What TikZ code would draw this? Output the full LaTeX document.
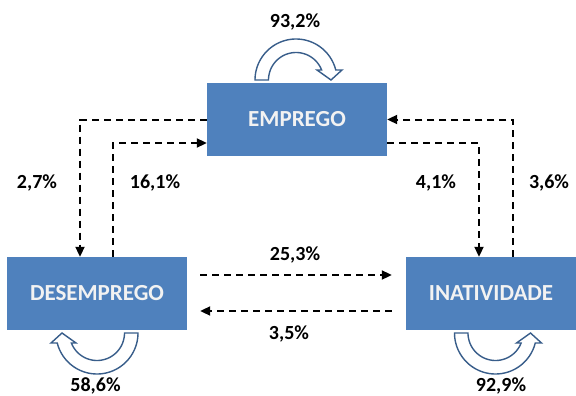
\documentclass[tikz,border=0pt]{standalone}
\usepackage{fontspec}
\setmainfont{Carlito}
\usetikzlibrary{arrows.meta}
\definecolor{boxblue}{HTML}{4F81BD}
\definecolor{loopblue}{HTML}{385D8A}
\definecolor{boxtext}{HTML}{F2F2F2}
\tikzset{
  uloop/.pic={
    \draw[loopband] plot[variable=\t, domain=180:14.1, samples=50] ({41*cos(\t)},{41*sin(\t)})
      -- (46,10) -- (35,0) -- (21,10)
      -- plot[variable=\t, domain=21.3:180, samples=50] ({27.5*cos(\t)},{27.5*sin(\t)}) -- cycle;
  }
}
\begin{document}
\begin{tikzpicture}[x=1pt,y=-1pt,
  state/.style={fill=boxblue, minimum width=180pt, minimum height=73pt, inner sep=0pt,
    text=boxtext, font=\bfseries\fontsize{23}{28}\selectfont},
  flow/.style={draw=black, line width=2pt, dash pattern=on 7pt off 5pt,
    -{Triangle[length=10pt,width=9pt]}},
  pct/.style={font=\bfseries\fontsize{20}{24}\selectfont, anchor=base, inner sep=0pt},
  loopband/.style={draw=loopblue, fill=white, line width=1.4pt, line join=miter}]
\useasboundingbox (0,0) rectangle (576,396);
\node[state] (E) at (297,119.5) {EMPREGO};
\node[state] (D) at (97,293.5) {DESEMPREGO};
\node[state, minimum width=170pt] (I) at (491,293.5) {INATIVIDADE};
% loops
\pic[yscale=-1] at (296,80) {uloop};
\pic[xscale=-1] at (97,333) {uloop};
\pic at (495.5,333) {uloop};
% flows
\draw[flow] (E.west) -| ([xshift=-17pt]D.north);
\draw[flow] ([xshift=16pt]D.north) |- ([yshift=-23.5pt]E.west);
\draw[flow] ([yshift=-23.5pt]E.east) -| ([xshift=-12pt]I.north);
\draw[flow] ([xshift=22pt]I.north) |- (E.east);
\draw[flow] ([xshift=13pt,yshift=18.5pt]D.east) -- ([xshift=-14pt,yshift=18.5pt]I.west);
\draw[flow] ([xshift=-14pt,yshift=-17.5pt]I.west) -- ([xshift=13pt,yshift=-17.5pt]D.east);
% labels
\node[pct] (l932) at (295,28) {93,2\%};
\node[pct] (l27) at (37,188) {2,7\%};
\node[pct] (l161) at (155,188) {16,1\%};
\node[pct] (l41) at (436,188) {4,1\%};
\node[pct] (l36) at (549,188) {3,6\%};
\node[pct] (l253) at (295,260.5) {25,3\%};
\node[pct] (l35) at (289,339) {3,5\%};
\node[pct] (l586) at (95.5,391.5) {58,6\%};
\node[pct] (l929) at (501,391.5) {92,9\%};
\end{tikzpicture}
\end{document}
